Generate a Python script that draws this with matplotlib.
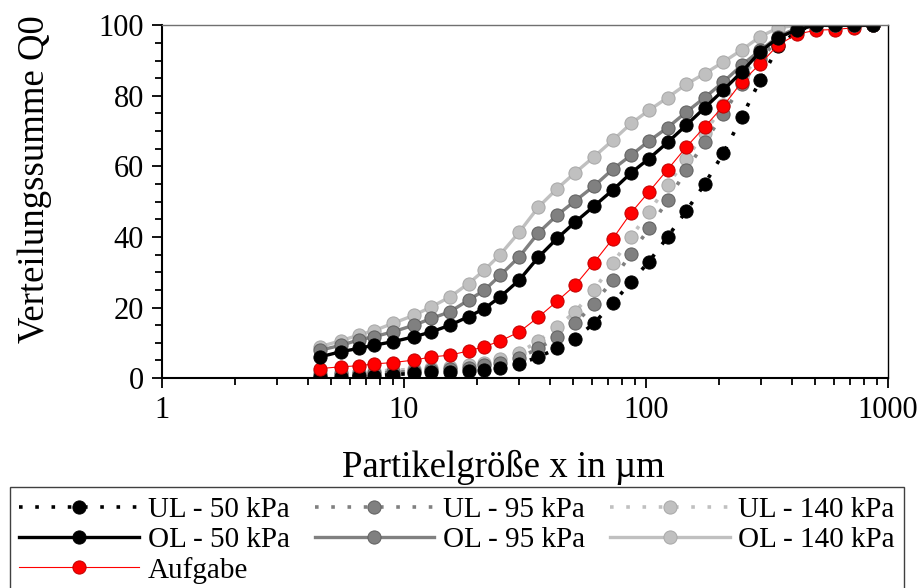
import matplotlib
matplotlib.use("Agg")
import matplotlib.pyplot as plt
from matplotlib.ticker import MultipleLocator, LogLocator, NullFormatter, FixedLocator, FixedFormatter

plt.rcParams['font.family'] = ['Liberation Serif', 'DejaVu Serif']

# Partikelklassen (um)
x_klassen = [4.5, 5.5, 6.5, 7.5, 9, 11, 13, 15.5, 18.5, 21.5, 25, 30, 36, 43, 51,
             61, 73, 87, 103, 123, 147, 175, 209, 249, 297, 353, 423, 503, 603, 723, 867]

ul_50 = [0.4, 0.4, 0.5, 0.6, 1.0, 1.3, 1.6, 1.8, 2.1, 2.4, 2.9, 4.0, 6.0, 8.4, 11.2,
         15.5, 21.2, 27.3, 33.0, 40.0, 47.4, 55.0, 63.7, 73.9, 84.5, 94.0, 98.5, 100, 100, 100, 100]
ul_95 = [1.0, 1.1, 1.2, 1.4, 1.6, 1.9, 2.2, 2.5, 3.0, 3.6, 4.3, 5.8, 8.4, 11.7, 15.5,
         21.0, 27.8, 35.3, 42.4, 50.4, 58.9, 66.9, 74.8, 83.3, 90.5, 96.0, 98.8, 100, 100, 100, 100]
ul_140 = [1.6, 1.7, 1.8, 2.0, 2.2, 2.5, 2.8, 3.2, 3.7, 4.4, 5.3, 7.2, 10.5, 14.5, 18.8,
          24.9, 32.5, 40.0, 47.1, 54.7, 62.2, 69.5, 77.3, 85.3, 91.5, 96.5, 99.0, 100, 100, 100, 100]
ol_50 = [6.0, 7.5, 8.4, 9.3, 10.3, 11.7, 13.1, 15.0, 17.4, 19.7, 23.0, 27.8, 34.3, 39.6, 44.2,
         48.7, 53.3, 58.2, 62.2, 66.8, 71.7, 76.6, 81.6, 86.8, 92.5, 96.5, 98.8, 100, 100, 100, 100]
ol_95 = [7.9, 9.3, 10.8, 11.7, 13.1, 15.0, 16.9, 18.8, 22.1, 24.9, 29.1, 34.4, 41.2, 46.2, 50.2,
         54.4, 59.2, 63.2, 67.2, 71.0, 75.4, 79.5, 83.9, 88.7, 92.9, 96.8, 99.3, 100, 100, 100, 100]
ol_140 = [8.9, 10.6, 12.2, 13.4, 15.5, 17.8, 20.2, 23.0, 26.8, 30.6, 35.0, 41.4, 48.5, 53.7, 58.2,
          62.7, 67.4, 72.2, 75.9, 79.5, 83.3, 86.3, 89.6, 93.0, 96.8, 99.3, 100, 100, 100, 100, 100]
aufgabe = [2.7, 3.2, 3.5, 4.0, 4.4, 5.1, 6.0, 6.5, 7.7, 8.9, 10.5, 13.1, 17.3, 21.8, 26.3,
           32.7, 39.5, 46.9, 52.8, 59.1, 65.5, 71.2, 77.1, 83.9, 89.1, 94.5, 97.5, 98.6, 98.8, 99.3, 100]

schwarz = '#000000'
grau = '#808080'
hellgrau = '#c0c0c0'
rot = '#ff0000'

fig = plt.figure(figsize=(9.2, 5.88), dpi=100)
ax = fig.add_axes([0.176, 0.357, 0.789, 0.600])

dotted = (0, (1, 3.5))
ms = 9.5

def kurve(y, farbe, ls, lw, label, rand):
    line, = ax.plot(x_klassen, y, color=farbe, linestyle=ls, linewidth=lw,
                    marker='o', markersize=ms, markerfacecolor=farbe,
                    markeredgecolor=rand, markeredgewidth=0.7, label=label)
    return line

h_ul140 = kurve(ul_140, hellgrau, dotted, 2.6, 'UL - 140 kPa', '#a8a8a8')
h_ul95 = kurve(ul_95, grau, dotted, 2.6, 'UL - 95 kPa', '#606060')
h_ul50 = kurve(ul_50, schwarz, dotted, 2.6, 'UL - 50 kPa', '#000000')
h_auf = kurve(aufgabe, rot, '-', 0.8, 'Aufgabe', '#c00000')
h_ol140 = kurve(ol_140, hellgrau, '-', 2.4, 'OL - 140 kPa', '#a8a8a8')
h_ol95 = kurve(ol_95, grau, '-', 2.4, 'OL - 95 kPa', '#606060')
h_ol50 = kurve(ol_50, schwarz, '-', 2.4, 'OL - 50 kPa', '#000000')

ax.set_xscale('log')
ax.set_xlim(1, 1000)
ax.set_ylim(0, 100)
ax.xaxis.set_major_locator(FixedLocator([1, 10, 100, 1000]))
ax.xaxis.set_major_formatter(FixedFormatter(['1', '10', '100', '1000']))
ax.xaxis.set_minor_locator(LogLocator(base=10, subs=range(2, 10)))
ax.xaxis.set_minor_formatter(NullFormatter())
ax.yaxis.set_major_locator(MultipleLocator(20))
ax.yaxis.set_minor_locator(MultipleLocator(5))

ax.tick_params(which='both', direction='out', labelsize=22, width=1.3, top=False, right=False)
ax.tick_params(which='major', length=7, pad=6)
ax.tick_params(which='minor', length=5)

ax.spines['left'].set_linewidth(1.5)
ax.spines['bottom'].set_linewidth(1.5)
ax.spines['top'].set_color('#707070')
ax.spines['top'].set_linewidth(1.0)
ax.spines['right'].set_linewidth(1.0)

ax.set_xlabel('Partikelgröße x in µm', fontsize=26.5)
ax.set_ylabel('Verteilungssumme Q0', fontsize=26.5)
ax.xaxis.set_label_coords(0.47, -0.204)
ax.yaxis.set_label_coords(-0.152, 0.564)

handles = [h_ul50, h_ol50, h_auf, h_ul95, h_ol95, h_ul140, h_ol140]
leg = fig.legend(handles=handles, labels=[h.get_label() for h in handles],
                 ncol=3, loc='upper left', bbox_to_anchor=(0.011, 0.171, 0.972, 0),
                 mode='expand', fontsize=21, handlelength=4.1, handletextpad=0.3,
                 columnspacing=0.4, labelspacing=0.12, borderpad=0.32,
                 fancybox=False, framealpha=1, edgecolor='#404040', borderaxespad=0)
leg.get_frame().set_linewidth(1.0)

fig.savefig('out.png', dpi=100)
